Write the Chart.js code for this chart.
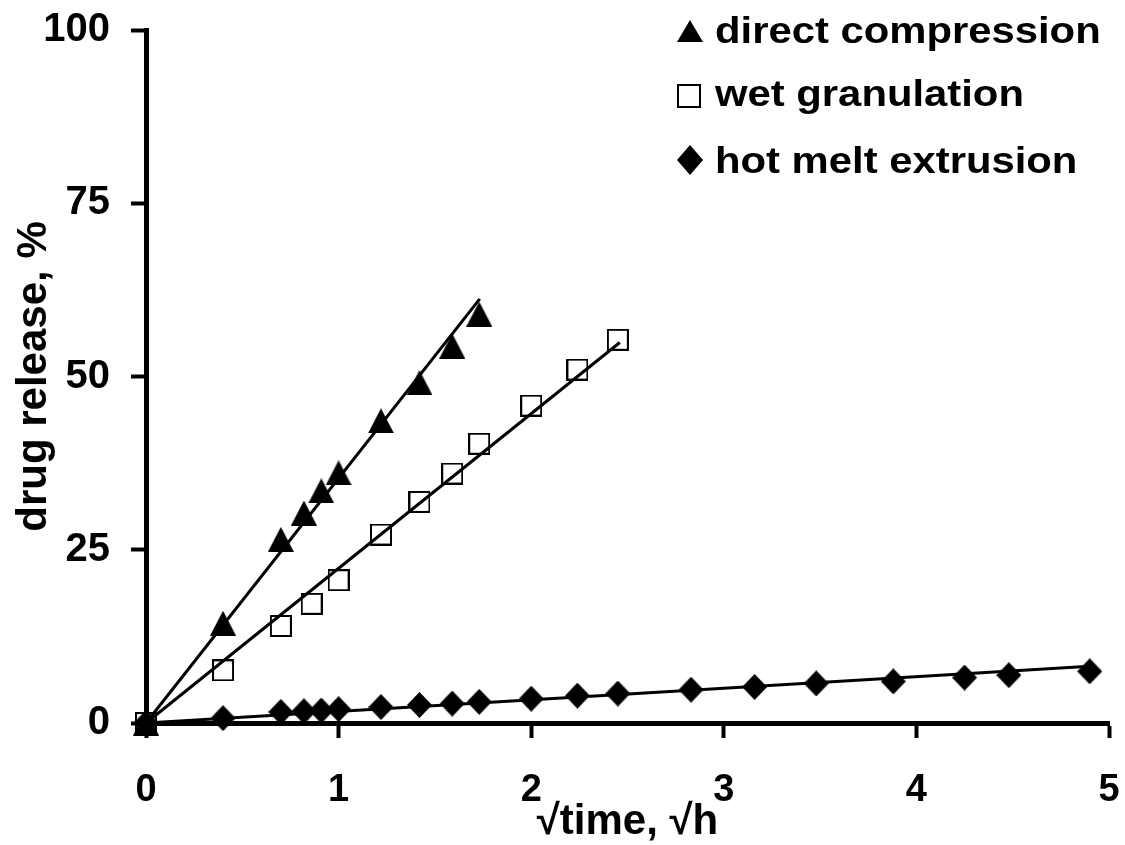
<!DOCTYPE html>
<html>
<head>
<meta charset="utf-8">
<script src="https://cdn.jsdelivr.net/npm/chart.js@4/dist/chart.umd.min.js"></script>
<style>
html,body{margin:0;padding:0;background:#ffffff;}
#wrap{width:1125px;height:845px;position:relative;}
</style>
</head>
<body>
<div id="wrap"><canvas id="c" width="1125" height="845"></canvas></div>
<script>
// ---- data ----
const seriesNames = ['direct compression', 'wet granulation', 'hot melt extrusion'];

const dcX = [0, 0.40, 0.70, 0.82, 0.91, 1.00, 1.22, 1.42, 1.59, 1.73];
const dcY = [0, 14.4, 26.5, 30.3, 33.5, 36.1, 43.6, 49.1, 54.4, 59.0];

const wgX = [0, 0.40, 0.70, 0.86, 1.00, 1.22, 1.42, 1.59, 1.73, 2.00, 2.24, 2.45];
const wgY = [0, 7.6, 14.0, 17.2, 20.6, 27.2, 31.9, 36.0, 40.3, 45.8, 51.0, 55.3];

const hmX = [0, 0.40, 0.70, 0.82, 0.91, 1.00, 1.22, 1.42, 1.59, 1.73, 2.00, 2.24, 2.45, 2.83, 3.16, 3.48, 3.88, 4.25, 4.48, 4.90];
const hmY = [0, 0.7, 1.6, 1.7, 1.8, 2.0, 2.3, 2.6, 2.8, 3.05, 3.5, 3.95, 4.25, 4.8, 5.2, 5.7, 6.0, 6.55, 6.9, 7.45];

// linear fits (start / end points)
const fitDcX = [0, 1.733];
const fitDcY = [0, 61.2];
const fitWgX = [0, 2.46];
const fitWgY = [0, 54.9];
const fitHmX = [0, 4.90];
const fitHmY = [0, 8.2];

const xTicks = [0, 1, 2, 3, 4, 5];
const yTicks = [0, 25, 50, 75, 100];

const xTitle = '\u221Atime, \u221Ah';
const yTitle = 'drug release, %';

// ---- helpers ----
const FONT = '"Liberation Sans", Arial, Helvetica, sans-serif';
function pts(xs, ys) { return xs.map((x, i) => ({x: x, y: ys[i]})); }

function makeMarker(w, h, drawFn) {
  const c = document.createElement('canvas');
  c.width = w; c.height = h;
  const g = c.getContext('2d');
  drawFn(g, w, h);
  return c;
}
const triImg = makeMarker(26, 25, (g, w, h) => {
  g.fillStyle = '#000';
  g.beginPath(); g.moveTo(w / 2, 0); g.lineTo(w, h); g.lineTo(0, h); g.closePath(); g.fill();
});
const sqImg = makeMarker(22, 22, (g, w, h) => {
  g.strokeStyle = '#000'; g.lineWidth = 2;
  g.strokeRect(1, 1, w - 2, h - 2);
});
const diaImg = makeMarker(25, 26, (g, w, h) => {
  g.fillStyle = '#000';
  g.beginPath(); g.moveTo(w / 2, 0); g.lineTo(w, h / 2); g.lineTo(w / 2, h); g.lineTo(0, h / 2); g.closePath(); g.fill();
});

// custom legend (top-right, stacked)
const legendPlugin = {
  id: 'customLegend',
  afterDraw(chart) {
    const ctx = chart.ctx;
    const rows = [
      {base: 43, marker: 'tri'},
      {base: 106, marker: 'sq'},
      {base: 173, marker: 'dia'}
    ];
    ctx.save();
    ctx.fillStyle = '#000';
    ctx.strokeStyle = '#000';
    rows.forEach((r, i) => {
      const b = r.base;
      ctx.beginPath();
      if (r.marker === 'tri') {
        ctx.moveTo(690, b - 23); ctx.lineTo(703, b - 1); ctx.lineTo(677, b - 1); ctx.closePath(); ctx.fill();
      } else if (r.marker === 'sq') {
        ctx.lineWidth = 2; ctx.strokeRect(678, b - 21, 22, 22);
      } else {
        ctx.moveTo(690, b - 28); ctx.lineTo(703, b - 13); ctx.lineTo(690, b + 2); ctx.lineTo(677, b - 13); ctx.closePath(); ctx.fill();
      }
      ctx.save();
      ctx.translate(715, b);
      ctx.scale(1.13, 1);
      ctx.font = 'bold 37px ' + FONT;
      ctx.textBaseline = 'alphabetic';
      ctx.textAlign = 'left';
      ctx.fillText(seriesNames[i], 0, 0);
      ctx.restore();
    });
    ctx.restore();
  }
};

const lineStyle = {showLine: true, pointRadius: 0, borderColor: '#000', borderWidth: 3, clip: false, order: 0};
const markStyle = {showLine: false, clip: false, order: 1, pointRadius: 13, pointHoverRadius: 13};

function noPad(s) { s.paddingLeft = 0; s.paddingRight = 0; s.paddingTop = 0; s.paddingBottom = 0; }

new Chart(document.getElementById('c'), {
  type: 'scatter',
  data: {
    datasets: [
      Object.assign({label: seriesNames[0], data: pts(dcX, dcY), pointStyle: triImg}, markStyle),
      Object.assign({label: seriesNames[1], data: pts(wgX, wgY), pointStyle: sqImg}, markStyle),
      Object.assign({label: seriesNames[2], data: pts(hmX, hmY), pointStyle: diaImg}, markStyle),
      Object.assign({label: 'fit1', data: pts(fitDcX, fitDcY)}, lineStyle),
      Object.assign({label: 'fit2', data: pts(fitWgX, fitWgY)}, lineStyle),
      Object.assign({label: 'fit3', data: pts(fitHmX, fitHmY)}, lineStyle)
    ]
  },
  options: {
    responsive: false,
    animation: false,
    devicePixelRatio: 1,
    layout: {padding: {left: 0, right: 16, top: 30, bottom: 0}},
    plugins: {legend: {display: false}, tooltip: {enabled: false}},
    events: [],
    scales: {
      x: {
        type: 'linear', min: 0, max: 5, position: 'bottom',
        border: {display: true, color: '#000', width: 5},
        grid: {display: true, drawOnChartArea: false, drawTicks: true, tickLength: 15, tickWidth: 4, tickColor: '#000'},
        ticks: {color: '#000', font: {family: FONT, size: 38, weight: 'bold', lineHeight: 1}, padding: 34, maxRotation: 0, autoSkip: false},
        afterBuildTicks: s => { s.ticks = xTicks.map(v => ({value: v})); },
        title: {display: true, text: xTitle, color: '#000', font: {family: FONT, size: 42, weight: 'bold', lineHeight: 1}, padding: {top: 0, bottom: 2}},
        afterFit: s => { s.height = 122; noPad(s); }
      },
      y: {
        type: 'linear', min: 0, max: 100,
        border: {display: true, color: '#000', width: 5},
        grid: {display: true, drawOnChartArea: false, drawTicks: true, tickLength: 15, tickWidth: 4, tickColor: '#000'},
        ticks: {color: '#000', font: {family: FONT, size: 40, weight: 'bold', lineHeight: 1}, padding: 21, autoSkip: false},
        afterBuildTicks: s => { s.ticks = yTicks.map(v => ({value: v})); },
        title: {display: true, text: yTitle, color: '#000', font: {family: FONT, size: 42, weight: 'bold', lineHeight: 1}, padding: {top: 13, bottom: 0}},
        afterFit: s => { s.width = 146; noPad(s); }
      }
    }
  },
  plugins: [legendPlugin]
});
</script>
</body>
</html>
